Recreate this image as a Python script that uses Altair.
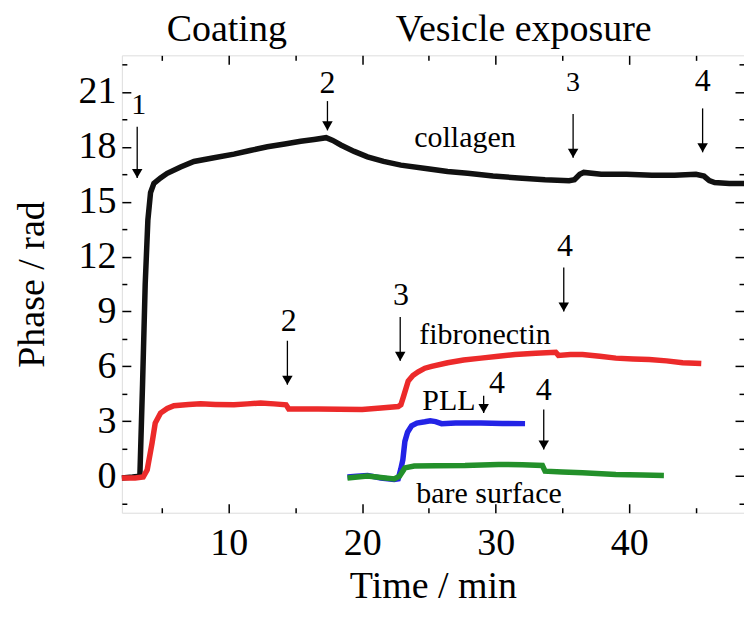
import altair as alt
import pandas as pd

FONT = "Liberation Serif"

# ---------------- series data ----------------
col_t = [2.0, 2.8, 3.35, 3.55, 3.75, 3.95, 4.15, 4.4, 4.9, 5.4, 6.4, 7.4, 8.9, 10.4, 11.6,
         12.9, 14.2, 15.4, 16.4, 17.3, 17.8, 18.4, 19.4, 20.4, 21.6, 22.9, 24.9, 26.4, 27.9,
         29.8, 31.7, 33.7, 35.5, 35.9, 36.3, 36.6, 37.9, 39.8, 41.7, 43.4, 45.0, 45.6, 46.0,
         46.4, 47.5, 48.6]
col_phase = [-0.1, -0.05, 0.0, 5.0, 10.5, 14.0, 15.5, 16.0, 16.3, 16.55, 16.9, 17.2, 17.4,
             17.6, 17.8, 18.0, 18.15, 18.3, 18.4, 18.5, 18.35, 18.1, 17.75, 17.45, 17.2, 17.0,
             16.8, 16.65, 16.55, 16.4, 16.3, 16.2, 16.15, 16.2, 16.5, 16.6, 16.5, 16.5, 16.45,
             16.45, 16.5, 16.4, 16.15, 16.05, 16.0, 16.0]

fib_t = [2.0, 3.0, 3.6, 3.9, 4.26, 4.5, 4.9, 5.4, 5.9, 7.0, 7.9, 9.0, 10.4, 11.4, 12.4, 13.4,
         14.3, 14.5, 15.5, 16.7, 18.3, 20.0, 21.4, 22.7, 22.9, 23.1, 23.45, 23.8, 24.2, 24.7,
         25.2, 26.4, 27.6, 28.9, 30.2, 31.45, 33.0, 34.5, 34.7, 35.6, 36.5, 37.8, 39.0, 40.3,
         41.5, 42.8, 44.0, 45.4]
fib_phase = [-0.1, -0.1, -0.05, 0.35, 1.8, 2.9, 3.45, 3.7, 3.85, 3.92, 3.95, 3.92, 3.9, 3.95,
             4.0, 3.95, 3.9, 3.67, 3.67, 3.67, 3.65, 3.64, 3.73, 3.8, 3.9, 4.36, 5.2, 5.5,
             5.7, 5.9, 6.0, 6.2, 6.35, 6.45, 6.55, 6.65, 6.72, 6.77, 6.6, 6.65, 6.65, 6.55,
             6.45, 6.4, 6.37, 6.3, 6.2, 6.15]

pll_t = [18.9, 19.6, 20.4, 21.4, 22.4, 22.7, 22.9, 23.05, 23.2, 23.4, 23.7, 24.1, 24.7, 25.1,
         25.5, 25.95, 27.0, 28.9, 30.5, 32.2]
pll_phase = [-0.05, 0.0, 0.04, -0.1, -0.18, -0.15, 0.4, 0.9, 1.9, 2.4, 2.75, 2.9, 2.97, 3.03,
             2.98, 2.87, 2.9, 2.9, 2.88, 2.87]

bare_t = [18.9, 20.4, 21.4, 22.4, 22.8, 23.2, 23.9, 25.5, 27.7, 30.2, 32.0, 33.5, 33.7, 35.0,
          36.5, 39.0, 41.0, 42.6]
bare_phase = [-0.1, 0.0, -0.08, -0.15, 0.0, 0.45, 0.55, 0.57, 0.58, 0.64, 0.62, 0.58, 0.27,
              0.22, 0.18, 0.09, 0.06, 0.04]

# ---------------- annotations ----------------
arrow_x = [3.15, 17.4, 35.8, 45.5, 14.4, 22.85, 35.1, 29.1, 33.6]
arrow_top = [19.1, 20.5, 19.8, 20.1, 7.4, 8.7, 11.4, 4.4, 3.64]
arrow_tip = [16.3, 18.9, 17.4, 17.7, 5.0, 6.3, 9.0, 3.45, 1.46]
num_label = ["1", "2", "3", "4", "2", "3", "4", "4", "4"]
num_x = [3.27, 17.4, 35.8, 45.5, 14.5, 22.9, 35.2, 30.1, 33.6]
num_y = [20.3, 21.5, 21.5, 21.6, 8.5, 9.9, 12.6, 5.1, 4.7]
num_size = [30, 32, 28, 32, 32, 32, 32, 32, 32]

name_text = ["collagen", "fibronectin", "PLL", "bare surface"]
name_x = [27.7, 29.2, 26.5, 29.5]
name_y = [18.5, 7.7, 4.1, -1.0]

head_text = ["Coating", "Vesicle exposure"]
head_x = [9.86, 32.1]
head_y = [23.76, 23.76]

x_major = [10, 20, 30, 40]
x_minor = [5, 15, 25, 35, 45]
y_major = [0, 3, 6, 9, 12, 15, 18, 21]
y_minor = [-1.5, 1.5, 4.5, 7.5, 10.5, 13.5, 16.5, 19.5, 22.5]

X_DOMAIN = [2, 48.6]
Y_DOMAIN = [-2, 23]

xs = alt.Scale(domain=X_DOMAIN, nice=False, zero=False)
ys = alt.Scale(domain=Y_DOMAIN, nice=False, zero=False)

MAJ, MIN = 9, 5


def ax(orient, values, size, labels=False, title=None, **kw):
    opts = dict(orient=orient, values=values, tickSize=size, offset=-size, domain=False,
                grid=False, labels=labels, tickColor="black", tickWidth=1.5)
    if labels:
        opts.update(labelFont=FONT, labelFontSize=38, labelColor="black")
    if title:
        opts.update(title=title, titleFont=FONT, titleFontSize=38, titleColor="black",
                    titleFontWeight="normal")
    else:
        opts.update(title=None)
    opts.update(kw)
    return alt.Axis(**opts)


def series(t, p, color, xaxis, yaxis):
    df = pd.DataFrame({"t": t, "phase": p})
    return alt.Chart(df).mark_line(color=color, strokeWidth=5.5).encode(
        x=alt.X("t:Q", scale=xs, axis=xaxis),
        y=alt.Y("phase:Q", scale=ys, axis=yaxis),
    )


l_col = series(col_t, col_phase, "#111111",
               ax("bottom", x_major, MAJ, labels=True, title="Time / min",
                  labelPadding=12, titlePadding=5),
               ax("left", y_major, MAJ, labels=True, title="Phase / rad",
                  labelPadding=6, titlePadding=26))
l_fib = series(fib_t, fib_phase, "#ec2a2a",
               ax("bottom", x_minor, MIN), ax("left", y_minor, MIN))
l_pll = series(pll_t, pll_phase, "#2323e6",
               ax("top", x_major, MAJ), ax("right", y_major, MAJ))
l_bare = series(bare_t, bare_phase, "#23902a",
                ax("top", x_minor, MIN), ax("right", y_minor, MIN))

arr_df = pd.DataFrame({"x": arrow_x, "top": arrow_top, "tip": arrow_tip})
arr_rule = alt.Chart(arr_df).mark_rule(color="black", strokeWidth=1.3).encode(
    x=alt.X("x:Q", scale=xs, axis=None),
    y=alt.Y("top:Q", scale=ys, axis=None),
    y2="tip:Q",
)
arr_head = alt.Chart(arr_df).mark_point(shape="triangle-down", filled=True, color="black",
                                        opacity=1, size=110, yOffset=-4.5).encode(
    x=alt.X("x:Q", scale=xs, axis=None),
    y=alt.Y("tip:Q", scale=ys, axis=None),
)

num_df = pd.DataFrame({"x": num_x, "y": num_y, "label": num_label, "size": num_size})
nums = alt.Chart(num_df).mark_text(font=FONT, color="black", baseline="middle",
                                   align="center").encode(
    x=alt.X("x:Q", scale=xs, axis=None),
    y=alt.Y("y:Q", scale=ys, axis=None),
    text="label:N",
    size=alt.Size("size:Q", scale=None, legend=None),
)

name_df = pd.DataFrame({"x": name_x, "y": name_y, "label": name_text})
names = alt.Chart(name_df).mark_text(font=FONT, color="black", fontSize=30, baseline="middle",
                                     align="center").encode(
    x=alt.X("x:Q", scale=xs, axis=None),
    y=alt.Y("y:Q", scale=ys, axis=None),
    text="label:N",
)

head_df = pd.DataFrame({"x": head_x, "y": head_y, "label": head_text})
heads = alt.Chart(head_df).mark_text(font=FONT, color="black", fontSize=38,
                                     baseline="alphabetic", align="center").encode(
    x=alt.X("x:Q", scale=xs, axis=None),
    y=alt.Y("y:Q", scale=ys, axis=None),
    text="label:N",
)

chart = alt.layer(
    l_col, l_fib, l_pll, l_bare, arr_rule, arr_head, nums, names, heads
).resolve_axis(
    x="independent", y="independent"
).properties(
    width=623, height=458,
    padding={"left": 114, "top": 47, "right": 0, "bottom": 96},
    autosize="none",
).configure_view(
    stroke="black", strokeWidth=2
).configure(background="white")

chart.save("out.html", embed_options={"renderer": "svg", "actions": False})
